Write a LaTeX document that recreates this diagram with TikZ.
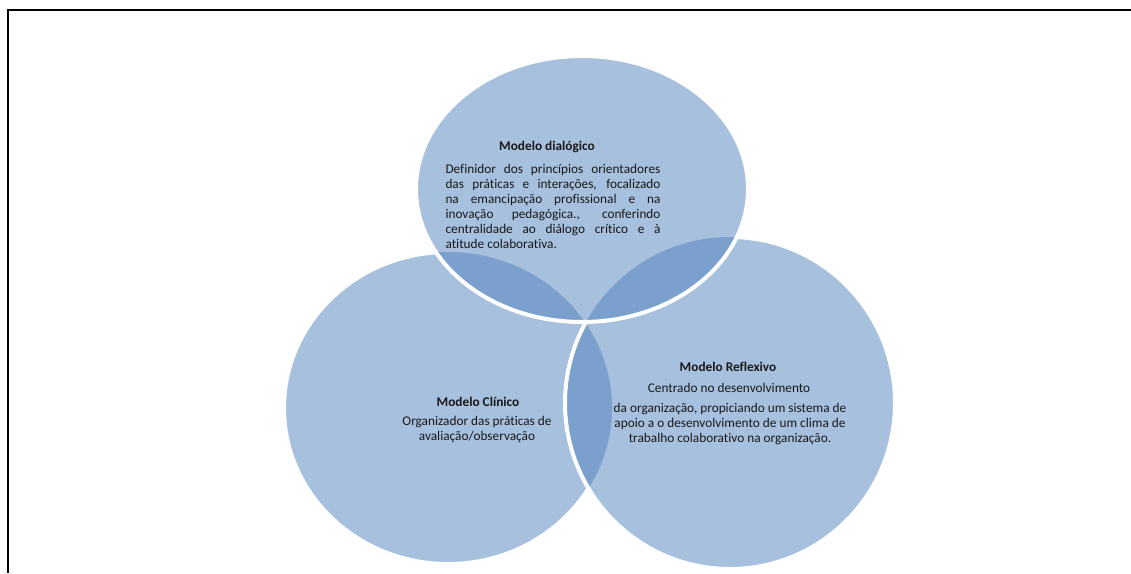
\documentclass[tikz,border=0pt]{standalone}
\usepackage{fontspec}
\setmainfont{Carlito}[Ligatures=NoCommon]
\usepackage{xcolor}
\usetikzlibrary{positioning}
\definecolor{vennlight}{RGB}{167,192,222}
\definecolor{venndark}{RGB}{123,160,205}
\definecolor{venntext}{RGB}{25,25,25}

% outlines of the three models
\newcommand{\clinicopath}{(448,408) ellipse [x radius=164, y radius=156]}
\newcommand{\reflexivopath}{(730,403) ellipse [x radius=165, y radius=166]}
\newcommand{\dialogicopath}{(582,189) ellipse [x radius=166, y radius=133]}

\begin{document}
\begin{tikzpicture}[x=1pt, y=-1pt,
    vennborder/.style={draw=white, line width=4pt},
    modeltitle/.style={font=\fontsize{13.3}{15}\selectfont\bfseries, text=venntext, inner sep=0pt},
    modeltext/.style={font=\fontsize{13.3}{15}\selectfont, text=venntext, inner sep=0pt, align=center}]
    \useasboundingbox (0,0) rectangle (1131,573);
    % Frame round the figure
    \draw[line width=2pt] (1131,10) -| (8,573);

    % Left circle
    \fill[vennlight] \clinicopath;
    \draw[vennborder] \clinicopath;
    % Right circle, darker over the left one
    \begin{scope}
        \clip \reflexivopath;
        \fill[vennlight] \reflexivopath;
        \fill[venndark] \clinicopath;
    \end{scope}
    \draw[vennborder] \reflexivopath;
    % Top ellipse, darker over both circles
    \begin{scope}
        \clip \dialogicopath;
        \fill[vennlight] \dialogicopath;
        \fill[venndark] \clinicopath;
        \fill[venndark] \reflexivopath;
    \end{scope}
    \draw[vennborder] \dialogicopath;

    % Texts
    \node[modeltitle] (dialtitle) at (547,147) {Modelo dialógico};
    \node[font=\fontsize{13.3}{15}\selectfont, text=venntext, inner sep=0pt, text width=215pt, align=justify] (dialtext) at (553,206) {Definidor dos princípios orientadores\linebreak das práticas e interações, focalizado\linebreak na emancipação profissional e na\linebreak inovação pedagógica., conferindo\linebreak centralidade ao diálogo crítico e à\linebreak atitude colaborativa.};

    \node[modeltitle] (clintitle) at (478,402) {Modelo Clínico};
    \node[modeltext] (clintext) at (477,429) {Organizador das práticas de\\avaliação/observação};

    \node[modeltitle] (refltitle) at (728,367) {Modelo Reflexivo};
    \node[modeltext] (reflsub) at (729,388) {Centrado no desenvolvimento};
    \node[modeltext] (refltext) at (730,424) {da organização, propiciando um sistema de\\apoio a o desenvolvimento de um clima de\\trabalho colaborativo na organização.};
\end{tikzpicture}
\end{document}
